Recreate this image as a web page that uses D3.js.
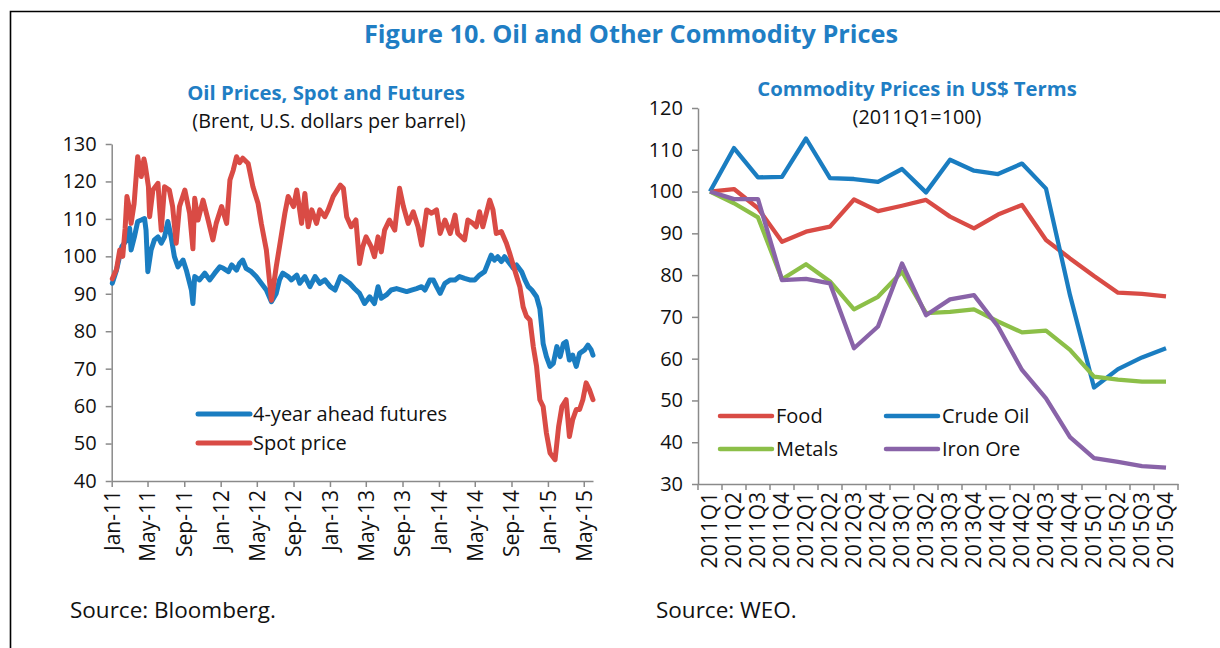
<!DOCTYPE html>
<html>
<head>
<meta charset="utf-8">
<script src="https://cdn.jsdelivr.net/npm/d3@7"></script>
<style>
  body { margin: 0; background: #fff; }
  text { font-family: "Open Sans", "Noto Sans", sans-serif; }
</style>
</head>
<body>
<svg id="chart" width="1220" height="648"></svg>
<script>
// ---------- Data: left panel (Brent, US$ per barrel) ----------
const spotDates = ["2011-01-03","2011-01-17","2011-01-28","2011-02-07","2011-02-15","2011-02-21","2011-03-01","2011-03-07","2011-03-17","2011-03-29","2011-04-10","2011-04-19","2011-04-23","2011-05-04","2011-05-08","2011-05-19","2011-06-05","2011-06-10","2011-06-16","2011-06-27","2011-07-13","2011-07-24","2011-08-05","2011-08-16","2011-09-03","2011-09-19","2011-09-30","2011-10-06","2011-10-17","2011-11-03","2011-11-20","2011-12-06","2011-12-17","2012-01-04","2012-01-21","2012-02-01","2012-02-12","2012-02-23","2012-03-04","2012-03-15","2012-04-02","2012-04-18","2012-05-05","2012-05-16","2012-06-02","2012-06-19","2012-07-05","2012-07-16","2012-08-03","2012-08-14","2012-09-01","2012-09-12","2012-09-28","2012-10-09","2012-10-20","2012-11-01","2012-11-17","2012-11-28","2012-12-15","2012-12-26","2013-01-12","2013-02-05","2013-02-15","2013-02-26","2013-03-13","2013-03-29","2013-04-10","2013-04-21","2013-05-02","2013-05-19","2013-05-30","2013-06-11","2013-06-22","2013-07-03","2013-07-19","2013-08-06","2013-08-22","2013-09-04","2013-09-20","2013-10-07","2013-10-23","2013-11-04","2013-11-21","2013-12-07","2013-12-24","2014-01-05","2014-01-21","2014-02-08","2014-02-24","2014-03-05","2014-03-28","2014-04-08","2014-04-25","2014-05-06","2014-05-17","2014-05-28","2014-06-20","2014-07-01","2014-07-12","2014-07-29","2014-08-15","2014-08-26","2014-09-12","2014-09-29","2014-10-10","2014-10-21","2014-11-02","2014-11-13","2014-11-24","2014-12-05","2014-12-16","2014-12-27","2015-01-08","2015-01-25","2015-02-06","2015-02-17","2015-03-03","2015-03-14","2015-03-25","2015-04-06","2015-04-17","2015-04-28","2015-05-09","2015-05-20","2015-06-01"];
const spotValues = [94,96.5,101.7,100,107.5,116,113,108.8,114,126.6,121.3,126,124.5,118.6,110.6,117.7,119.5,113.3,107,118.6,117.7,113.3,103.5,113.3,117.7,111.5,102,115.5,109.7,115,109.7,104.4,108.8,113.3,108.8,120.4,123,126.6,125,126.2,124.8,118.6,114.2,108.8,101.7,88.3,97.2,102.6,111.5,116,113.3,117.7,108.8,116.8,107.9,112.4,108.8,112.4,110.6,112.4,116,119,118.2,110.6,107.9,109.7,98.1,102.6,105.2,102.6,99.9,105.2,101.2,107,109.7,107,118.2,113.3,108.8,111.9,107.9,103,112.4,111.5,112.4,106.1,109.7,106.1,111,106.1,104.4,109.7,108.8,107.9,111.9,107.9,115,112.4,106.1,106.6,103.5,100.8,96.3,91.9,86.5,84,83,75.9,70.6,61.7,59.9,52.8,47.5,45.7,54.6,59.9,61.7,51.9,56.4,59.1,59.1,61.7,66.2,64.4,61.7];

const futDates = ["2011-01-03","2011-01-17","2011-02-04","2011-02-21","2011-03-02","2011-03-07","2011-03-18","2011-03-29","2011-04-10","2011-04-21","2011-04-26","2011-05-02","2011-05-13","2011-05-24","2011-06-05","2011-06-16","2011-06-27","2011-07-08","2011-07-19","2011-07-30","2011-08-11","2011-08-28","2011-09-08","2011-09-25","2011-09-30","2011-10-06","2011-10-22","2011-11-09","2011-11-25","2011-12-12","2011-12-29","2012-01-10","2012-01-27","2012-02-07","2012-02-23","2012-03-04","2012-03-15","2012-03-26","2012-04-13","2012-04-29","2012-05-16","2012-06-02","2012-06-19","2012-07-05","2012-07-16","2012-07-27","2012-08-14","2012-08-25","2012-09-12","2012-09-22","2012-10-09","2012-10-26","2012-11-12","2012-11-28","2012-12-15","2013-01-02","2013-01-18","2013-02-05","2013-02-21","2013-03-08","2013-03-24","2013-04-10","2013-04-27","2013-05-14","2013-05-30","2013-06-11","2013-06-22","2013-07-09","2013-07-25","2013-08-12","2013-08-29","2013-09-15","2013-10-01","2013-10-18","2013-11-04","2013-11-15","2013-12-02","2013-12-13","2013-12-24","2014-01-05","2014-01-21","2014-02-08","2014-02-24","2014-03-11","2014-03-28","2014-04-14","2014-05-01","2014-05-17","2014-06-03","2014-06-14","2014-06-25","2014-07-06","2014-07-17","2014-07-29","2014-08-09","2014-08-26","2014-09-07","2014-09-18","2014-10-05","2014-10-16","2014-10-27","2014-11-08","2014-11-24","2014-12-05","2014-12-11","2014-12-16","2014-12-27","2015-01-08","2015-01-19","2015-01-31","2015-02-11","2015-02-22","2015-03-03","2015-03-14","2015-03-25","2015-04-06","2015-04-17","2015-05-04","2015-05-15","2015-05-26","2015-06-01"];
const futValues = [92.8,96.3,102.6,104.4,107.5,101.7,105.2,109.3,109.7,110.1,107,95.9,101.7,104.4,105.2,103.5,105.2,109.3,105.2,99.9,97.2,99,96.3,91,87.4,94.6,93.7,95.5,93.7,95.5,97.2,96.8,95.9,97.7,96.3,98.1,99,96.8,95.9,94.6,92.8,91,87.9,90.1,93.7,95.5,94.6,93.7,95,92.8,94.6,91.9,94.6,92.8,93.7,91.9,91,94.6,93.7,92.8,91.4,90.1,87.4,89.2,87.4,91.9,88.8,89.7,91,91.4,91,90.6,91,91.4,91.9,91,93.7,93.7,91.9,90.1,92.8,93.7,93.7,94.6,94.1,93.7,93.7,95,95.9,98.1,100.3,99,99.9,98.6,99.9,98.1,96.8,97.7,95.9,93.7,91.9,91,89.2,86,81.2,76.7,73.2,70.6,71.4,75.9,73.2,76.7,77.2,72.3,73.6,70.6,74.1,75,76.3,75,73.6];

const leftYTicks = [40,50,60,70,80,90,100,110,120,130];

// ---------- Data: right panel (2011Q1 = 100) ----------
const quarters = ["2011Q1","2011Q2","2011Q3","2011Q4","2012Q1","2012Q2","2012Q3","2012Q4","2013Q1","2013Q2","2013Q3","2013Q4","2014Q1","2014Q2","2014Q3","2014Q4","2015Q1","2015Q2","2015Q3","2015Q4"];
const food     = [100,100.6,96,88,90.4,91.6,98.1,95.3,96.6,98,94,91.2,94.5,96.8,88.4,84,79.8,75.8,75.5,74.9];
const crudeOil = [100,110.4,103.4,103.5,112.7,103.2,103,102.3,105.4,99.8,107.6,105,104.2,106.7,100.7,75.2,53.1,57.5,60.3,62.5];
const metals   = [100,97.2,93.8,79,82.6,78.5,71.8,74.8,80.8,70.9,71.2,71.8,68.9,66.3,66.7,62.1,55.7,55,54.5,54.5];
const ironOre  = [100,98.2,98.2,78.8,79.1,78,62.5,67.7,82.8,70.4,74.2,75.2,67.7,57.3,50.5,41.2,36.2,35.3,34.3,33.9];
const rightYTicks = [30,40,50,60,70,80,90,100,110,120];

// ---------- Styles ----------
const BLUE = "#1a7dc1", RED = "#d94b45", GREEN = "#8cbf48", PURPLE = "#8963a8";
const TITLE = "#1f7ec4", AXIS = "#8a8a8a";
const TICK_FS = 20, XLAB_FS = 21, SUB_FS = 20.3, NOTE_FS = 19.8, LEG_FS = 20, SRC_FS = 22.5;

const svg = d3.select("#chart");
svg.append("rect").attr("x", 0).attr("y", 0).attr("width", 1220).attr("height", 648).attr("fill", "#fff");

// Frame (top and left edges visible)
svg.append("path").attr("d", "M10.5,648 V11.5 H1220").attr("fill", "none").attr("stroke", "#000").attr("stroke-width", 1.6);

svg.append("text").attr("x", 631).attr("y", 43).attr("text-anchor", "middle")
  .attr("font-size", 25.3).attr("font-weight", "bold").attr("fill", TITLE)
  .text("Figure 10. Oil and Other Commodity Prices");

function styleAxis(g) {
  g.selectAll("path.domain").attr("stroke", AXIS).attr("stroke-width", 1.5);
  g.selectAll(".tick line").attr("stroke", AXIS).attr("stroke-width", 1.5);
  g.selectAll(".tick text").attr("fill", "#111").style("font-family", '"Open Sans", "Noto Sans", sans-serif');
}

// ---------- Left panel ----------
const parse = d3.timeParse("%Y-%m-%d");
const spot = spotDates.map((d, i) => ({ d: parse(d), v: spotValues[i] }));
const fut = futDates.map((d, i) => ({ d: parse(d), v: futValues[i] }));

const xL = d3.scaleTime().domain([parse("2011-01-01"), parse("2015-06-01")]).range([111.7, 593]);
const yL = d3.scaleLinear().domain([40, 130]).range([481, 144]);

svg.append("text").attr("x", 326).attr("y", 100).attr("text-anchor", "middle")
  .attr("font-size", SUB_FS).attr("font-weight", "bold").attr("fill", TITLE).text("Oil Prices, Spot and Futures");
svg.append("text").attr("x", 329).attr("y", 128).attr("text-anchor", "middle")
  .attr("font-size", NOTE_FS).attr("fill", "#111").text("(Brent, U.S. dollars per barrel)");

const gyL = svg.append("g").attr("transform", "translate(111.7,0)")
  .call(d3.axisLeft(yL).tickValues(leftYTicks).tickSize(6).tickSizeOuter(0).tickPadding(9));
gyL.selectAll(".tick text").attr("font-size", TICK_FS);
styleAxis(gyL);

const xTicksL = d3.timeMonth.range(parse("2011-01-01"), parse("2015-06-01"), 4);
const gxL = svg.append("g").attr("transform", "translate(0,481)")
  .call(d3.axisBottom(xL).tickValues(xTicksL).tickFormat(d3.timeFormat("%b-%y")).tickSize(6).tickSizeOuter(0));
gxL.selectAll(".tick text").attr("font-size", XLAB_FS)
  .attr("transform", "rotate(-90)").attr("text-anchor", "end")
  .attr("x", -9).attr("y", 0).attr("dy", "0.35em");
styleAxis(gxL);

const lineL = d3.line().x(d => xL(d.d)).y(d => yL(d.v));
svg.append("path").datum(fut).attr("d", lineL).attr("fill", "none").attr("stroke", BLUE)
  .attr("stroke-width", 5).attr("stroke-linejoin", "round").attr("stroke-linecap", "round");
svg.append("path").datum(spot).attr("d", lineL).attr("fill", "none").attr("stroke", RED)
  .attr("stroke-width", 5).attr("stroke-linejoin", "round").attr("stroke-linecap", "round");

const legL = [{ name: "4-year ahead futures", c: BLUE, y: 414 }, { name: "Spot price", c: RED, y: 443 }];
legL.forEach(l => {
  svg.append("line").attr("x1", 198).attr("x2", 250).attr("y1", l.y).attr("y2", l.y)
    .attr("stroke", l.c).attr("stroke-width", 5).attr("stroke-linecap", "round");
  svg.append("text").attr("x", 253).attr("y", l.y).attr("dy", "0.35em").attr("font-size", LEG_FS).attr("fill", "#111").text(l.name);
});

svg.append("text").attr("x", 70).attr("y", 618).attr("font-size", SRC_FS).attr("fill", "#111").text("Source: Bloomberg.");

// ---------- Right panel ----------
const xR = d3.scaleBand().domain(quarters).range([698, 1178]).padding(0);
const yR = d3.scaleLinear().domain([30, 120]).range([484, 108]);

svg.append("text").attr("x", 917).attr("y", 96).attr("text-anchor", "middle")
  .attr("font-size", SUB_FS).attr("font-weight", "bold").attr("fill", TITLE).text("Commodity Prices in US$ Terms");
svg.append("text").attr("x", 917).attr("y", 124).attr("text-anchor", "middle")
  .attr("font-size", NOTE_FS).attr("fill", "#111").text("(2011Q1=100)");

const gyR = svg.append("g").attr("transform", "translate(698,0)")
  .call(d3.axisLeft(yR).tickValues(rightYTicks).tickSize(6).tickSizeOuter(0).tickPadding(9));
gyR.selectAll(".tick text").attr("font-size", TICK_FS);
styleAxis(gyR);

const gxR = svg.append("g").attr("transform", "translate(0,484)")
  .call(d3.axisBottom(xR).tickSize(0).tickSizeOuter(0));
gxR.selectAll(".tick text").attr("font-size", XLAB_FS)
  .attr("transform", "rotate(-90)").attr("text-anchor", "end")
  .attr("x", -8).attr("y", 0).attr("dy", "0.35em");
// boundary tick marks between categories (Excel style)
gxR.selectAll(".tickmark").data(d3.range(quarters.length + 1)).enter().append("line")
  .attr("class", "tickmark")
  .attr("x1", i => 698 + i * xR.step()).attr("x2", i => 698 + i * xR.step())
  .attr("y1", 0).attr("y2", 6);
styleAxis(gxR);
gxR.selectAll(".tickmark").attr("stroke", AXIS).attr("stroke-width", 1.5);

const lineR = d3.line().x((d, i) => xR(quarters[i]) + xR.bandwidth() / 2).y(d => yR(d));
const seriesR = [
  { name: "Food", vals: food, c: RED },
  { name: "Crude Oil", vals: crudeOil, c: BLUE },
  { name: "Metals", vals: metals, c: GREEN },
  { name: "Iron Ore", vals: ironOre, c: PURPLE }
];
seriesR.forEach(s => {
  svg.append("path").datum(s.vals).attr("d", lineR).attr("fill", "none").attr("stroke", s.c)
    .attr("stroke-width", 4.3).attr("stroke-linejoin", "round").attr("stroke-linecap", "butt");
});

const legR = [
  { name: "Food", c: RED, x: 720, y: 416 },
  { name: "Crude Oil", c: BLUE, x: 886, y: 416 },
  { name: "Metals", c: GREEN, x: 720, y: 449 },
  { name: "Iron Ore", c: PURPLE, x: 886, y: 449 }
];
legR.forEach(l => {
  svg.append("line").attr("x1", l.x).attr("x2", l.x + 52).attr("y1", l.y).attr("y2", l.y)
    .attr("stroke", l.c).attr("stroke-width", 4.5).attr("stroke-linecap", "round");
  svg.append("text").attr("x", l.x + 56).attr("y", l.y).attr("dy", "0.35em").attr("font-size", LEG_FS).attr("fill", "#111").text(l.name);
});

svg.append("text").attr("x", 656).attr("y", 618).attr("font-size", SRC_FS).attr("fill", "#111").text("Source: WEO.");
</script>
</body>
</html>
